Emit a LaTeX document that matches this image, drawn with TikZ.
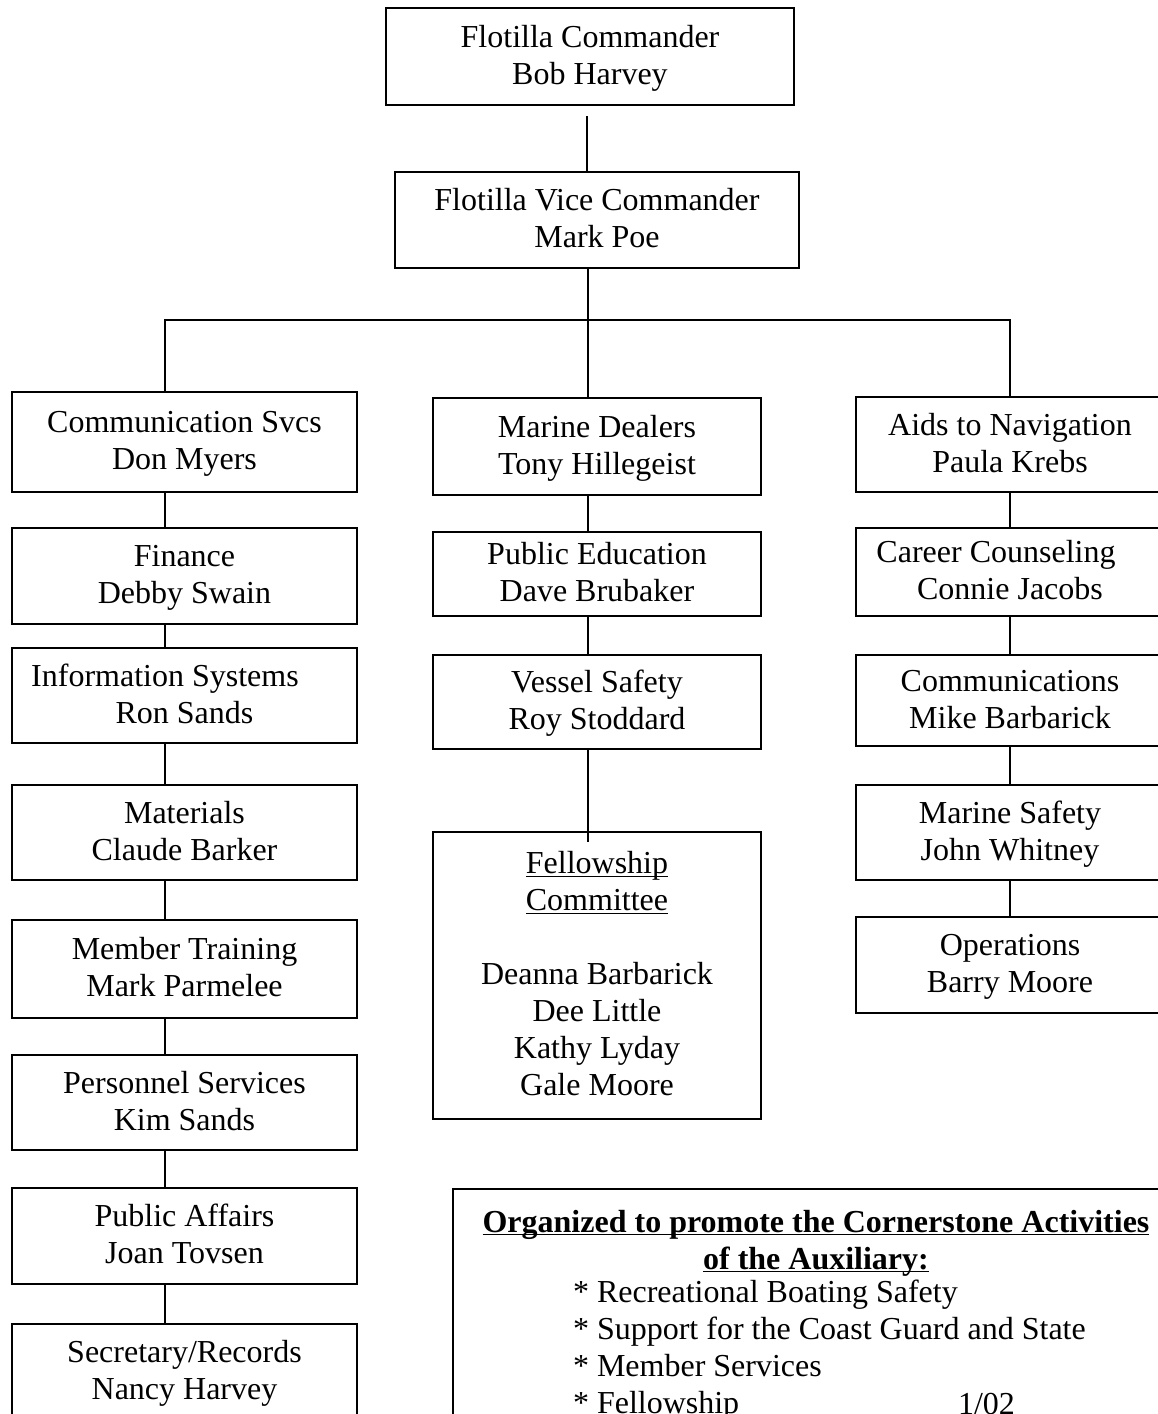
\documentclass[tikz,border=0pt]{standalone}
\usepackage{fontspec}
\setmainfont{Liberation Serif}

\newcommand{\ulined}[1]{\underline{\smash{#1}}}

\begin{document}
\fontsize{16}{18.5}\selectfont
\begin{tikzpicture}[x=0.5pt, y=-0.5pt, line width=1pt,
                    office/.style = {rectangle, draw, align=center, inner sep=0pt,
                                     text height=31.5pt, text depth=4pt},
                    leftoffice/.style = {office, minimum width=172.5pt},
                    midoffice/.style = {office, minimum width=164pt},
                    rightoffice/.style = {office, minimum width=154pt}]
  \useasboundingbox (0, 0) rectangle (1157, 1414);

  % Leadership.
  \node at (590, 56.5) [office, minimum width=204pt, minimum height=48.5pt, name=Commander] {Flotilla Commander\\Bob Harvey};
  \node at (597, 220) [office, minimum width=202pt, minimum height=48pt, name=ViceCommander] {Flotilla Vice Commander\\Mark Poe};

  % Left column of staff officers.
  \node at (184.5, 442) [leftoffice, minimum height=50pt, name=CommunicationSvcs] {Communication Svcs\\Don Myers};
  \node at (184.5, 576) [leftoffice, minimum height=48pt, name=Finance] {Finance\\Debby Swain};
  \node at (184.5, 695.5) [leftoffice, minimum height=47.5pt, name=InformationSystems] {Information Systems\hspace*{19.5pt}\\Ron Sands};
  \node at (184.5, 832.5) [leftoffice, minimum height=47.5pt, name=Materials] {Materials\\Claude Barker};
  \node at (184.5, 969) [leftoffice, minimum height=49pt, name=MemberTraining] {Member Training\\Mark Parmelee};
  \node at (184.5, 1102.5) [leftoffice, minimum height=47.5pt, name=PersonnelServices] {Personnel Services\\Kim Sands};
  \node at (184.5, 1236) [leftoffice, minimum height=48pt, name=PublicAffairs] {Public Affairs\\Joan Tovsen};
  \node at (184.5, 1372) [leftoffice, minimum height=48pt, name=SecretaryRecords] {Secretary/Records\\Nancy Harvey};

  % Middle column.
  \node at (597, 446.5) [midoffice, minimum height=48.5pt, name=MarineDealers] {Marine Dealers\\Tony Hillegeist};
  \node at (597, 574) [midoffice, minimum height=42pt, name=PublicEducation] {Public Education\\Dave Brubaker};
  \node at (597, 702) [midoffice, minimum height=47pt, name=VesselSafety] {Vessel Safety\\Roy Stoddard};
  \node at (597, 975.5) [midoffice, minimum height=143.5pt, text height=124pt, name=Fellowship]
        {\ulined{Fellowship}\\\ulined{Committee}\\[18.5pt]Deanna Barbarick\\Dee Little\\Kathy Lyday\\Gale Moore};

  % Right column.
  \node at (1010, 444.5) [rightoffice, minimum height=47.5pt, name=AidsToNavigation] {Aids to Navigation\\Paula Krebs};
  \node at (1010, 572) [rightoffice, minimum height=44pt, name=CareerCounseling] {Career Counseling\hspace*{14pt}\\Connie Jacobs};
  \node at (1010, 700.5) [rightoffice, minimum height=45.5pt, name=Communications] {Communications\\Mike Barbarick};
  \node at (1010, 832.5) [rightoffice, minimum height=47.5pt, name=MarineSafety] {Marine Safety\\John Whitney};
  \node at (1010, 965) [rightoffice, minimum height=48pt, name=Operations] {Operations\\Barry Moore};

  % Cornerstone note.
  \node at (452, 1188) [anchor=north west, draw, minimum width=370pt, minimum height=120pt, name=Cornerstone] {};
  \node at (816, 1231) [anchor=north, align=center, inner sep=0pt, font=\bfseries, name=CornerstoneTitle]
        {\ulined{Organized to promote the Cornerstone Activities}\\\ulined{of the Auxiliary:}};
  \node at (572, 1413) [anchor=base west, align=left, inner sep=0pt, name=CornerstoneList]
        {* Recreational Boating Safety\\* Support for the Coast Guard and State\\* Member Services\\* Fellowship};
  \node at (957, 1414) [anchor=base west, inner sep=0pt, name=Revision] {1/02};

  % Branch points.
  \coordinate (topline) at (587, 0);
  \coordinate (leftline) at (165, 320);
  \coordinate (midline) at (588, 320);
  \coordinate (rightline) at (1010, 320);

  % Chain of command.
  \draw [shorten <=5pt] (Commander.south -| topline)
        -- (ViceCommander.north -| topline);
  \draw (ViceCommander.south -| midline) -- (midline);
  \draw (CommunicationSvcs.north -| leftline) -- (leftline)
        -- (rightline) -- (AidsToNavigation.north -| rightline);
  \draw (midline) -- (MarineDealers.north -| midline);

  % Left column links.
  \draw (CommunicationSvcs.south -| leftline) -- (Finance.north -| leftline);
  \draw (Finance.south -| leftline) -- (InformationSystems.north -| leftline);
  \draw (InformationSystems.south -| leftline) -- (Materials.north -| leftline);
  \draw (Materials.south -| leftline) -- (MemberTraining.north -| leftline);
  \draw (MemberTraining.south -| leftline) -- (PersonnelServices.north -| leftline);
  \draw (PersonnelServices.south -| leftline) -- (PublicAffairs.north -| leftline);
  \draw (PublicAffairs.south -| leftline) -- (SecretaryRecords.north -| leftline);

  % Middle column links.
  \draw (MarineDealers.south -| midline) -- (PublicEducation.north -| midline);
  \draw (PublicEducation.south -| midline) -- (VesselSafety.north -| midline);
  \draw [shorten >=-5.5pt] (VesselSafety.south -| midline) -- (Fellowship.north -| midline);

  % Right column links.
  \draw (AidsToNavigation.south -| rightline) -- (CareerCounseling.north -| rightline);
  \draw (CareerCounseling.south -| rightline) -- (Communications.north -| rightline);
  \draw (Communications.south -| rightline) -- (MarineSafety.north -| rightline);
  \draw (MarineSafety.south -| rightline) -- (Operations.north -| rightline);
\end{tikzpicture}
\end{document}
